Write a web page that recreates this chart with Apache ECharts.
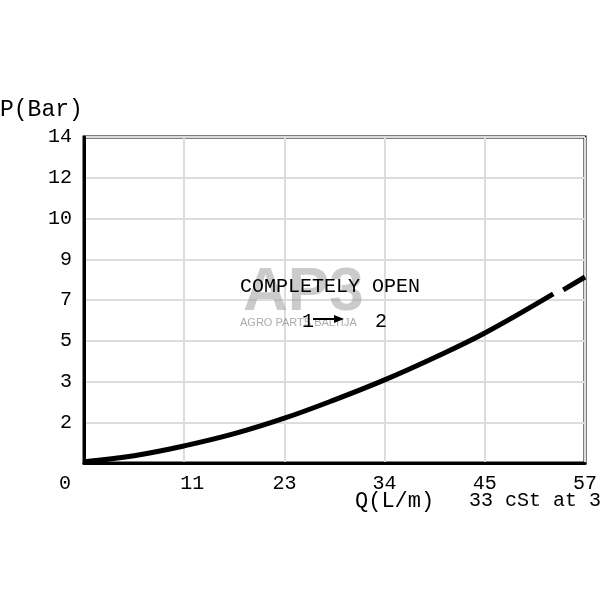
<!DOCTYPE html>
<html><head><meta charset="utf-8">
<script src="https://cdn.jsdelivr.net/npm/echarts@6/dist/echarts.min.js"></script>
<style>html,body{margin:0;padding:0;background:#fff}#c{width:600px;height:600px}</style>
</head><body><div id="c"></div>
<script>
// Tick labels (evenly spaced on the chart)
var qTicks = [0, 11, 23, 34, 45, 57];
var pTicks = [0, 2, 3, 5, 7, 9, 10, 12, 14];
// Curve (Q in L/m, P in bar)
var curveQ = [0, 5.5, 11, 17, 23, 28.5, 34, 39.5, 45, 53.2];
var curveP = [0.06, 0.36, 0.84, 1.44, 2.1, 2.55, 3.08, 4.18, 5.38, 7.3];
var tailQ = [54.4, 57];
var tailP = [7.5, 8.13];

function toIdx(v, ticks) {
  for (var i = 0; i < ticks.length - 1; i++) {
    if (v <= ticks[i + 1]) return i + (v - ticks[i]) / (ticks[i + 1] - ticks[i]);
  }
  return ticks.length - 1;
}
function pts(qs, ps) {
  return qs.map(function (q, i) { return [toIdx(q, qTicks), toIdx(ps[i], pTicks)]; });
}
var FONT = '"Liberation Mono", monospace';
var chart = echarts.init(document.getElementById('c'));
chart.setOption({
  animation: false,
  backgroundColor: '#fff',
  grid: { left: 84, right: 15, top: 137, bottom: 137, show: true, borderColor: '#000', borderWidth: 3, backgroundColor: 'transparent' },
  xAxis: {
    type: 'value', min: 0, max: 5, interval: 1,
    axisLine: { lineStyle: { color: '#000', width: 3 } },
    axisTick: { show: false },
    splitLine: { lineStyle: { color: '#dcdcdc', width: 2 } },
    axisLabel: {
      margin: 11, color: '#000', fontFamily: FONT, fontSize: 20,
      formatter: function (v) {
        var t = qTicks[Math.round(v)];
        if (v === 0) return '{l|' + t + '}';
        if (v === 1) return '{r|' + t + '}';
        return '{n|' + t + '}';
      },
      rich: {
        l: { padding: [0, 38, 0, 0], fontFamily: FONT, fontSize: 20, color: '#000' },
        r: { padding: [0, 0, 0, 16], fontFamily: FONT, fontSize: 20, color: '#000' },
        n: { fontFamily: FONT, fontSize: 20, color: '#000' }
      }
    }
  },
  yAxis: {
    type: 'value', min: 0, max: 8, interval: 1,
    axisLine: { show: true, lineStyle: { color: '#000', width: 3 } },
    axisTick: { show: false },
    splitLine: { lineStyle: { color: '#dcdcdc', width: 2 } },
    axisLabel: {
      margin: 12, color: '#000', fontFamily: FONT, fontSize: 20,
      formatter: function (v) { return v === 0 ? '' : String(pTicks[Math.round(v)]); }
    }
  },
  graphic: [
    { type: 'text', left: 0, top: 98, style: { text: 'P(Bar)', font: '23px ' + FONT, fill: '#000' } },
    { type: 'text', left: 355, top: 490, style: { text: 'Q(L/m)', font: '22px ' + FONT, fill: '#000' } },
    { type: 'text', left: 469, top: 491, style: { text: '33 cSt at 3', font: '20px ' + FONT, fill: '#000' } },
    { type: 'text', left: 243, top: 262, z: 1, style: { text: 'AP3', font: 'bold 62px "Liberation Sans", sans-serif', fill: 'rgba(160,160,160,0.55)' } },
    { type: 'text', left: 240, top: 317, z: 1, style: { text: 'AGRO PARTS BALTIJA', font: '11px "Liberation Sans", sans-serif', fill: 'rgba(150,150,150,0.8)' } },
    { type: 'text', left: 240, top: 277, z: 10, style: { text: 'COMPLETELY OPEN', font: '20px ' + FONT, fill: '#000' } },
    { type: 'text', left: 302, top: 312, z: 10, style: { text: '1', font: '20px ' + FONT, fill: '#000' } },
    { type: 'line', z: 10, shape: { x1: 313, y1: 319, x2: 337, y2: 319 }, style: { stroke: '#000', lineWidth: 2 } },
    { type: 'polygon', z: 10, shape: { points: [[344, 319], [334, 315], [334, 323]] }, style: { fill: '#000' } },
    { type: 'text', left: 375, top: 312, z: 10, style: { text: '2', font: '20px ' + FONT, fill: '#000' } }
  ],
  series: [
    { type: 'line', data: pts(curveQ, curveP), smooth: 0.4, symbol: 'none', clip: false, lineStyle: { color: '#000', width: 5 }, z: 5 },
    { type: 'line', data: pts(tailQ, tailP), symbol: 'none', clip: false, lineStyle: { color: '#000', width: 5 }, z: 5 }
  ]
});
</script></body></html>
